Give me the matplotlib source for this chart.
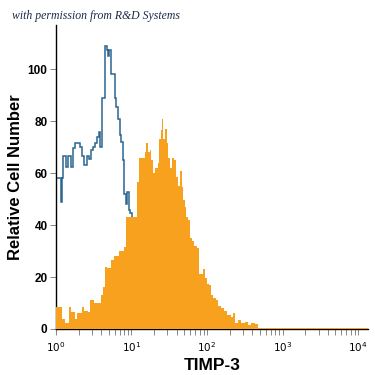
import numpy as np
import matplotlib
matplotlib.use("Agg")
import matplotlib.pyplot as plt
from matplotlib.ticker import LogLocator, NullFormatter

# isotype control (blue outline), log10 bin edges and counts
blue_log_edges = [0.000, 0.073, 0.086, 0.099, 0.132, 0.159, 0.199, 0.225, 0.252, 0.318,
                  0.344, 0.371, 0.417, 0.437, 0.464, 0.490, 0.517, 0.543, 0.570, 0.589,
                  0.609, 0.649, 0.675, 0.695, 0.709, 0.735, 0.781, 0.801, 0.821, 0.848,
                  0.868, 0.887, 0.907, 0.927, 0.947, 0.967, 0.987, 1.007]
blue_counts = [58, 49, 58, 66.5, 62.3, 66.7, 62.3, 69.5, 71.5, 70,
               66.7, 63, 66.7, 65.5, 68.8, 70, 71.4, 74, 75.9, 70,
               89, 109, 107.5, 105, 107.5, 98, 89, 85.5, 81, 74.6,
               72, 65, 52, 48, 52.7, 45.8, 44.5]

# TIMP-3 stained (orange filled), log10 bin edges and counts
orange_log_edges = [0.000, 0.079, 0.119, 0.172, 0.199, 0.252, 0.278, 0.344, 0.371, 0.424,
                    0.450, 0.503, 0.596, 0.623, 0.649, 0.675, 0.728, 0.768, 0.834, 0.901,
                    0.934, 1.079, 1.099, 1.179, 1.199, 1.219, 1.245, 1.265, 1.285, 1.318,
                    1.351, 1.371, 1.391, 1.411, 1.424, 1.444, 1.470, 1.490, 1.510, 1.543,
                    1.563, 1.589, 1.616, 1.642, 1.669, 1.689, 1.709, 1.728, 1.748, 1.775,
                    1.801, 1.828, 1.868, 1.894, 1.947, 1.974, 2.000, 2.026, 2.053, 2.079,
                    2.119, 2.146, 2.185, 2.225, 2.265, 2.318, 2.344, 2.371, 2.411, 2.450,
                    2.503, 2.543, 2.583, 2.636, 2.675, 2.728, 4.130]
orange_counts = [8.5, 4, 2.3, 8.5, 6.5, 4, 6, 8.5, 7, 6.5,
                 11, 10, 13, 16, 24, 23.5, 26.5, 28, 30, 31.5,
                 43, 56.5, 66, 68, 71.5, 68, 69, 65, 60, 62,
                 64, 73, 76.5, 81, 73, 77, 71.5, 66, 62, 66,
                 65, 58.5, 55, 61, 54.5, 49.6, 47, 43, 42, 35,
                 34, 32, 31, 21, 23, 19.5, 17.5, 17, 13, 12,
                 11, 9, 8, 7, 5.4, 4.6, 6, 2.3, 3.5, 2.3,
                 2.7, 1.5, 2.3, 2, 0.5, 0.3]

y_ticks = [0, 20, 40, 60, 80, 100]
x_ticks = [1, 10, 100, 1000, 10000]

plt.rcParams["font.family"] = ["Liberation Sans", "DejaVu Sans"]

fig = plt.figure(figsize=(3.75, 3.75), dpi=100, facecolor="w")
ax = fig.add_axes([0.149, 0.1227, 0.832, 0.8106])

ax.stairs(blue_counts, 10 ** np.array(blue_log_edges), color="#2b6690",
          linewidth=1.1, baseline=0, zorder=2)
ax.stairs(orange_counts, 10 ** np.array(orange_log_edges), color="#f7a11e",
          fill=True, linewidth=0, zorder=3)

ax.set_xscale("log")
ax.set_xlim(1, 10 ** 4.13)
ax.set_ylim(0, 117)

ax.set_xticks(x_ticks)
ax.set_xticklabels([r"$10^{%d}$" % i for i in range(len(x_ticks))], fontsize=7.5)
ax.xaxis.set_minor_locator(LogLocator(base=10, subs=np.arange(2, 10)))
ax.xaxis.set_minor_formatter(NullFormatter())
ax.set_yticks(y_ticks)
ax.set_yticklabels([str(v) for v in y_ticks], fontsize=8.5, fontweight="bold")

ax.tick_params(axis="x", which="both", direction="out", length=4, width=0.7,
               color="#888888", pad=4)
ax.tick_params(axis="y", direction="out", length=4, width=0.7, color="#888888", pad=2)

for s in ["top", "right"]:
    ax.spines[s].set_visible(False)
for s in ["left", "bottom"]:
    ax.spines[s].set_linewidth(1.0)
    ax.spines[s].set_color("black")

ax.set_xlabel("TIMP-3", fontsize=12.5, fontweight="bold", labelpad=3)
ax.set_ylabel("Relative Cell Number", fontsize=12, fontweight="bold", labelpad=3)

fig.text(0.032, 0.948, "with permission from R&D Systems", fontsize=8.5,
         style="italic", family=["Liberation Serif", "DejaVu Serif"], color="#1c2a4a")

fig.savefig("out.png", dpi=100)
